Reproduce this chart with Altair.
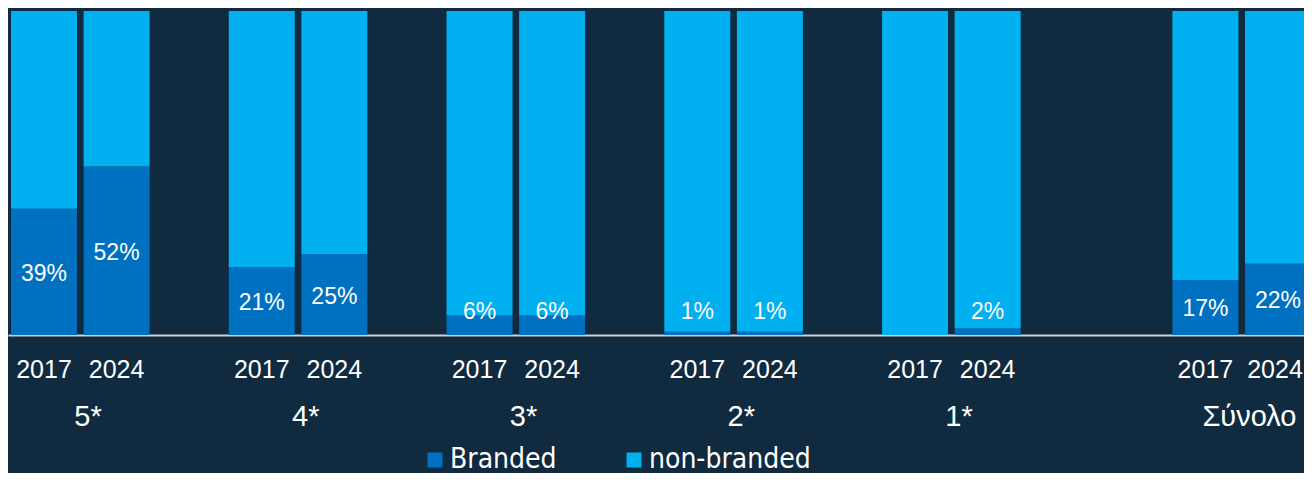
import altair as alt
import pandas as pd

groups = ["5*", "4*", "3*", "2*", "1*", "Σύνολο"]
years = ["2017", "2024"]
branded_2017 = [39, 21, 6, 1, 0, 17]
branded_2024 = [52, 25, 6, 1, 2, 22]
segments = ["Branded", "non-branded"]
colors = ["#0070c0", "#00b0f0"]
gaps_after = [1, 1, 1, 1, 2, 0]

slot_domain = []
rows = []
label_rows = []
group_rows = []
for gi, g in enumerate(groups):
    vals = [branded_2017[gi], branded_2024[gi]]
    for yi, yr in enumerate(years):
        slot = f"{g}|{yr}"
        slot_domain.append(slot)
        v = vals[yi]
        rows.append({"slot": slot, "segment": "Branded", "y0": 0, "y1": v})
        rows.append({"slot": slot, "segment": "non-branded", "y0": v, "y1": 100})
        if v > 0:
            label_rows.append({"slot": slot, "pos": max(v / 2, 7.6), "text": f"{v}%"})
    group_rows.append({"slot": f"{g}|{years[0]}", "group": g})
    for k in range(gaps_after[gi]):
        slot_domain.append(f"gap{gi}_{k}")

bars_df = pd.DataFrame(rows)
labels_df = pd.DataFrame(label_rows)
groups_df = pd.DataFrame(group_rows)

FONT = "Liberation Sans, Arial, sans-serif"
last_slot = slot_domain[-1]

x_enc = alt.X(
    "slot:N",
    scale=alt.Scale(domain=slot_domain, range=[0, 1306],
                    paddingInner=0.0908, paddingOuter=0.0413),
    sort=slot_domain,
    axis=alt.Axis(
        labelExpr="indexof(datum.value,'gap')==0 ? '' : split(datum.value,'|')[1]",
        ticks=False,
        tickSize=0,
        labelPadding=42,
        labelBaseline="alphabetic",
        labelFont=FONT,
        labelFontSize=25,
        labelColor="white",
        labelAngle=0,
        labelOverlap=False,
        labelOffset={"condition": {"test": f"datum.value == '{last_slot}'", "value": -3}, "value": 0},
        domainColor="#d0d0d0",
        domainWidth=2,
        grid=False,
        title=None,
    ),
)

y_scale = alt.Scale(domain=[0, 100], nice=False)

bars = alt.Chart(bars_df).mark_bar(strokeWidth=0).encode(
    x=x_enc,
    y=alt.Y("y0:Q", scale=y_scale, axis=None),
    y2="y1:Q",
    color=alt.Color(
        "segment:N",
        scale=alt.Scale(domain=segments, range=colors),
        legend=alt.Legend(
            orient="none",
            legendX=413,
            legendY=435,
            direction="horizontal",
            title=None,
            symbolType="square",
            symbolSize=225,
            symbolStrokeWidth=0,
            symbolOpacity=1,
            labelFont="DejaVu Sans Condensed, DejaVu Sans, sans-serif",
            labelFontSize=28,
            labelColor="white",
            labelOffset=1,
            labelLimit=400,
            columnPadding=63,
            padding=0,
        ),
    ),
)

pct = alt.Chart(labels_df).mark_text(
    font=FONT, fontSize=23, color="white", baseline="middle", dy=2
).encode(
    x=alt.X("slot:N", sort=slot_domain),
    y=alt.Y("pos:Q", scale=y_scale),
    text="text:N",
)

grp = alt.Chart(groups_df).mark_text(
    font=FONT, fontSize=29, color="white", baseline="alphabetic", dx=44
).encode(
    x=alt.X("slot:N", sort=slot_domain),
    y=alt.value(415),
    text="group:N",
)

chart = (
    alt.layer(bars, pct, grp)
    .properties(
        width=1296,
        height=324,
        autosize=alt.AutoSizeParams(type="none"),
        padding={"left": 0, "top": 3, "right": 0, "bottom": 138},
        background="#102a40",
    )
    .configure_view(stroke=None)
)

chart.save("out.html", embed_options={"renderer": "svg", "actions": False})
